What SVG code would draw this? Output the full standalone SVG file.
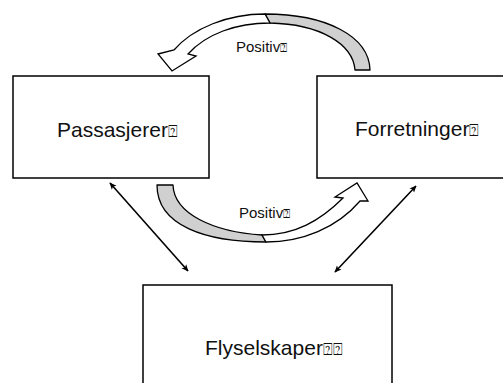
<svg xmlns="http://www.w3.org/2000/svg" width="503" height="383" viewBox="0 0 503 383">
  <style>
    .box { fill: #ffffff; stroke: #000000; stroke-width: 1.5; }
    .lbl { font-family: "Liberation Sans", Arial, sans-serif; font-size: 21px; fill: #111111; }
    .small { font-family: "Liberation Sans", Arial, sans-serif; font-size: 15px; fill: #111111; }
    .tofu { font-size: 0.78em; }
    .conn { fill: none; stroke: #000000; stroke-width: 1.6; marker-start: url(#ah); marker-end: url(#ah); }
    .back { fill: #d0d0d0; stroke: #000000; stroke-width: 1.3; stroke-linejoin: round; }
    .front { fill: #ffffff; stroke: #000000; stroke-width: 1.3; stroke-linejoin: miter; }
  </style>
  <defs>
    <marker id="ah" viewBox="0 0 10 10" refX="9" refY="5" markerWidth="7" markerHeight="7" orient="auto-start-reverse" markerUnits="userSpaceOnUse">
      <path d="M0,0.5 L10,5 L0,9.5 L2.5,5 Z" fill="#000000"/>
    </marker>
  </defs>
  <rect width="503" height="383" fill="#ffffff"/>

  <g id="connectors">
    <line class="conn" x1="110" y1="183" x2="188" y2="271"/>
    <line class="conn" x1="416" y1="186" x2="335" y2="272"/>
    <g id="arrow-top">
      <path class="back" d="M370,70 C369,36 326,14 265,14 L270,23 C320,24 353,44 355,70 Z"/>
      <path class="front" d="M265,14 C228,14 193,28 174,50 L158,54 L172,71 L196,56 L188,54 C206,34 236,23 270,23 Z"/>
    </g>
    <g id="arrow-bottom">
      <path class="back" d="M157,185 C157,226 206,242 266,242 L262,235 C214,232 174,214 173,185 Z"/>
      <path class="front" d="M266,242 C302,242 337,228 360,201 L368,201 L357,183 L335,197 L343,198 C320,221 295,235 262,235 Z"/>
    </g>
  </g>

  <g id="node-passasjerer">
    <rect class="box" x="13" y="76" width="196" height="102"/>
    <text class="lbl" x="57" y="137">Passasjerer<tspan class="tofu">⍰</tspan></text>
  </g>
  <g id="node-forretninger">
    <rect class="box" x="317" y="76" width="190" height="102"/>
    <text class="lbl" x="355" y="136">Forretninger<tspan class="tofu">⍰</tspan></text>
  </g>
  <g id="node-flyselskaper">
    <rect class="box" x="143" y="285" width="249" height="105"/>
    <text class="lbl" x="205" y="355">Flyselskaper<tspan class="tofu">⍰⍰</tspan></text>
  </g>
  <g id="labels">
    <text class="small" x="236" y="52">Positiv<tspan class="tofu">⍰</tspan></text>
    <text class="small" x="239" y="218">Positiv<tspan class="tofu">⍰</tspan></text>
  </g>
</svg>
